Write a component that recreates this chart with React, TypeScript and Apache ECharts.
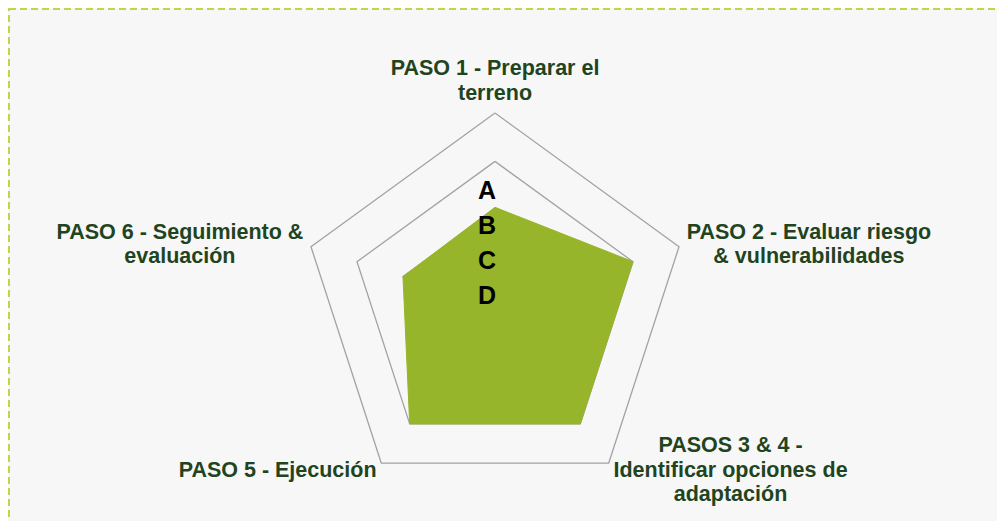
import React, { useEffect, useRef } from 'react';
import * as echarts from 'echarts';

// Axis categories in logical (clockwise) order, starting at the top
const categories = [
  'PASO 1 - Preparar el\nterreno',
  'PASO 2 - Evaluar riesgo\n& vulnerabilidades',
  'PASOS 3 & 4 -\nIdentificar opciones de\nadaptación',
  'PASO 5 - Ejecución',
  'PASO 6 - Seguimiento &\nevaluación',
];
// Level reached per step (scale 0..4)
const values = [2.05, 3, 3, 3, 2];
const axisMax = 4;
// Level labels drawn along the top axis, outer to inner
const levelLabels = ['A', 'B', 'C', 'D'];

const FONT = "'Liberation Sans', Arial, 'DejaVu Sans', sans-serif";
const GREEN = '#97b52a';
const TEXT_GREEN = '#1f441e';

export default function App() {
  const ref = useRef<HTMLDivElement>(null);

  useEffect(() => {
    document.body.style.overflow = 'hidden';
    const chart = echarts.init(ref.current!, null, { renderer: 'svg' });
    const cx = 487;
    const cy = 298.5;
    const R = 193.5;
    // ECharts places indicators counter-clockwise; reorder so they run clockwise
    const order = [0, 4, 3, 2, 1];

    const option: any = {
      animation: false,
      backgroundColor: '#f7f7f7',
      radar: {
        center: [cx, cy],
        radius: R,
        startAngle: 90,
        shape: 'polygon',
        splitNumber: 4,
        nameGap: 8,
        indicator: order.map((i) => ({ name: categories[i], min: 0, max: axisMax })),
        axisName: {
          formatter: (v: string) =>
            v
              .split('\n')
              .map((l) => `{a|${l}}`)
              .join('\n'),
          rich: {
            a: {
              align: 'center',
              fontSize: 21.5,
              fontWeight: 'bold',
              fontFamily: FONT,
              color: TEXT_GREEN,
              lineHeight: 24.5,
            },
          },
        },
        splitLine: { lineStyle: { color: '#a3a3a3', width: 1.3 } },
        splitArea: { show: false },
        axisLine: { show: false },
        axisTick: { show: false },
        axisLabel: { show: false },
      },
      series: [
        {
          type: 'radar',
          symbol: 'none',
          silent: true,
          data: [{ value: order.map((i) => values[i]) }],
          areaStyle: { color: GREEN, opacity: 1 },
          lineStyle: { color: GREEN, width: 1 },
        },
      ],
      graphic: [
        {
          type: 'rect',
          silent: true,
          z: 0,
          shape: { x: 1, y: 1, width: 1400, height: 900 },
          style: { fill: 'none', stroke: '#c4d447', lineWidth: 2, lineDash: [7, 4] },
        },
        ...levelLabels.map((t, i) => ({
          type: 'text',
          silent: true,
          z: 100,
          x: cx - 8,
          y: cy - 11.5 - 35 * (levelLabels.length - 1 - i),
          style: {
            text: t,
            fill: '#000000',
            fontSize: 25,
            fontWeight: 'bold',
            fontFamily: FONT,
            align: 'center',
            verticalAlign: 'middle',
          },
        })),
      ],
    };

    chart.setOption(option);
    return () => chart.dispose();
  }, []);

  return (
    <div
      ref={ref}
      style={{ position: 'fixed', left: 8, top: 8, width: 989, height: 513 }}
    />
  );
}
